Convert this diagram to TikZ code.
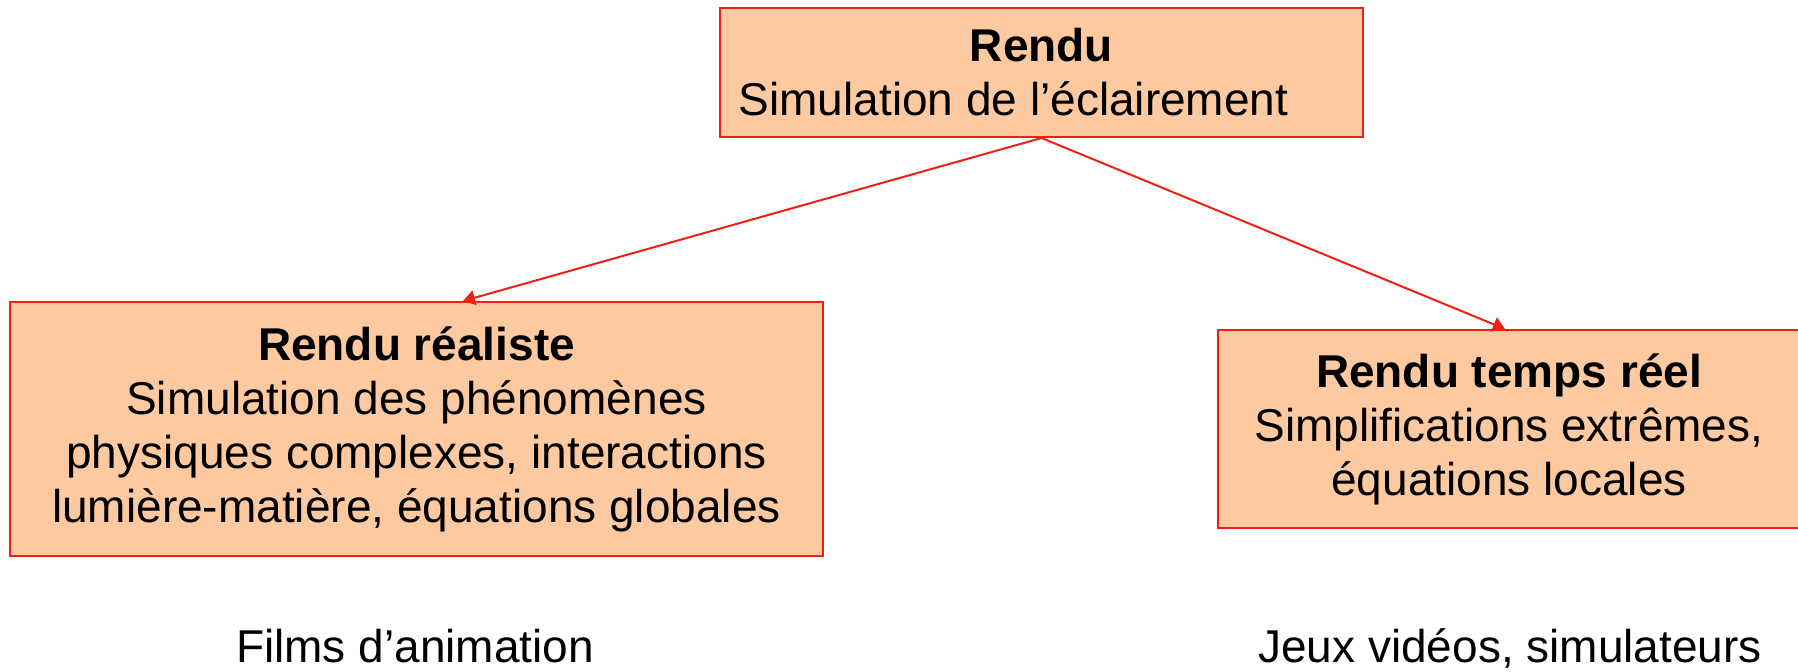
\documentclass[tikz,border=0pt]{standalone}
\usepackage{fontspec}
\setmainfont{Liberation Sans}
\usetikzlibrary{arrows.meta}
\definecolor{peach}{RGB}{253,201,161}
\definecolor{boxred}{RGB}{242,32,20}
\begin{document}
\begin{tikzpicture}[x=0.5pt,y=-0.5pt,
     bloc/.style={draw=boxred,line width=1pt,fill=peach,inner sep=0pt,align=center,
       font=\fontsize{23}{27}\selectfont},
     fleche/.style={draw=boxred,line width=1pt,-{Triangle[length=6pt,width=7.5pt]}},
     legende/.style={anchor=base,inner sep=0pt,font=\fontsize{23}{27}\selectfont}]
     \useasboundingbox (0,0) rectangle (1798,672);
     
     \node[bloc,minimum width=321.5pt,minimum height=64.5pt] (rendu) at (1041.5,72.5)
     {\textbf{Rendu}\\Simulation de l’éclairement\hspace*{28pt}};
     
     \node[bloc,minimum width=406.5pt,minimum height=127pt] (realiste) at (416.5,429)
     {\textbf{Rendu réaliste}\\Simulation des phénomènes\\physiques complexes, interactions\\lumière-matière, équations globales};
     
     \node[bloc,minimum width=291pt,minimum height=99pt] (tempsreel) at (1509,429)
     {\textbf{Rendu temps réel}\\Simplifications extrêmes,\\équations locales};
     
     \draw[fleche] (rendu.south) -- ([xshift=23.25pt]realiste.north);
     \draw[fleche] (rendu.south) -- ([xshift=-2pt]tempsreel.north);
     
     \node[legende] (films) at (415,663) {Films d’animation};
     \node[legende] (jeux) at (1510,663) {Jeux vidéos, simulateurs};
\end{tikzpicture}
\end{document}
